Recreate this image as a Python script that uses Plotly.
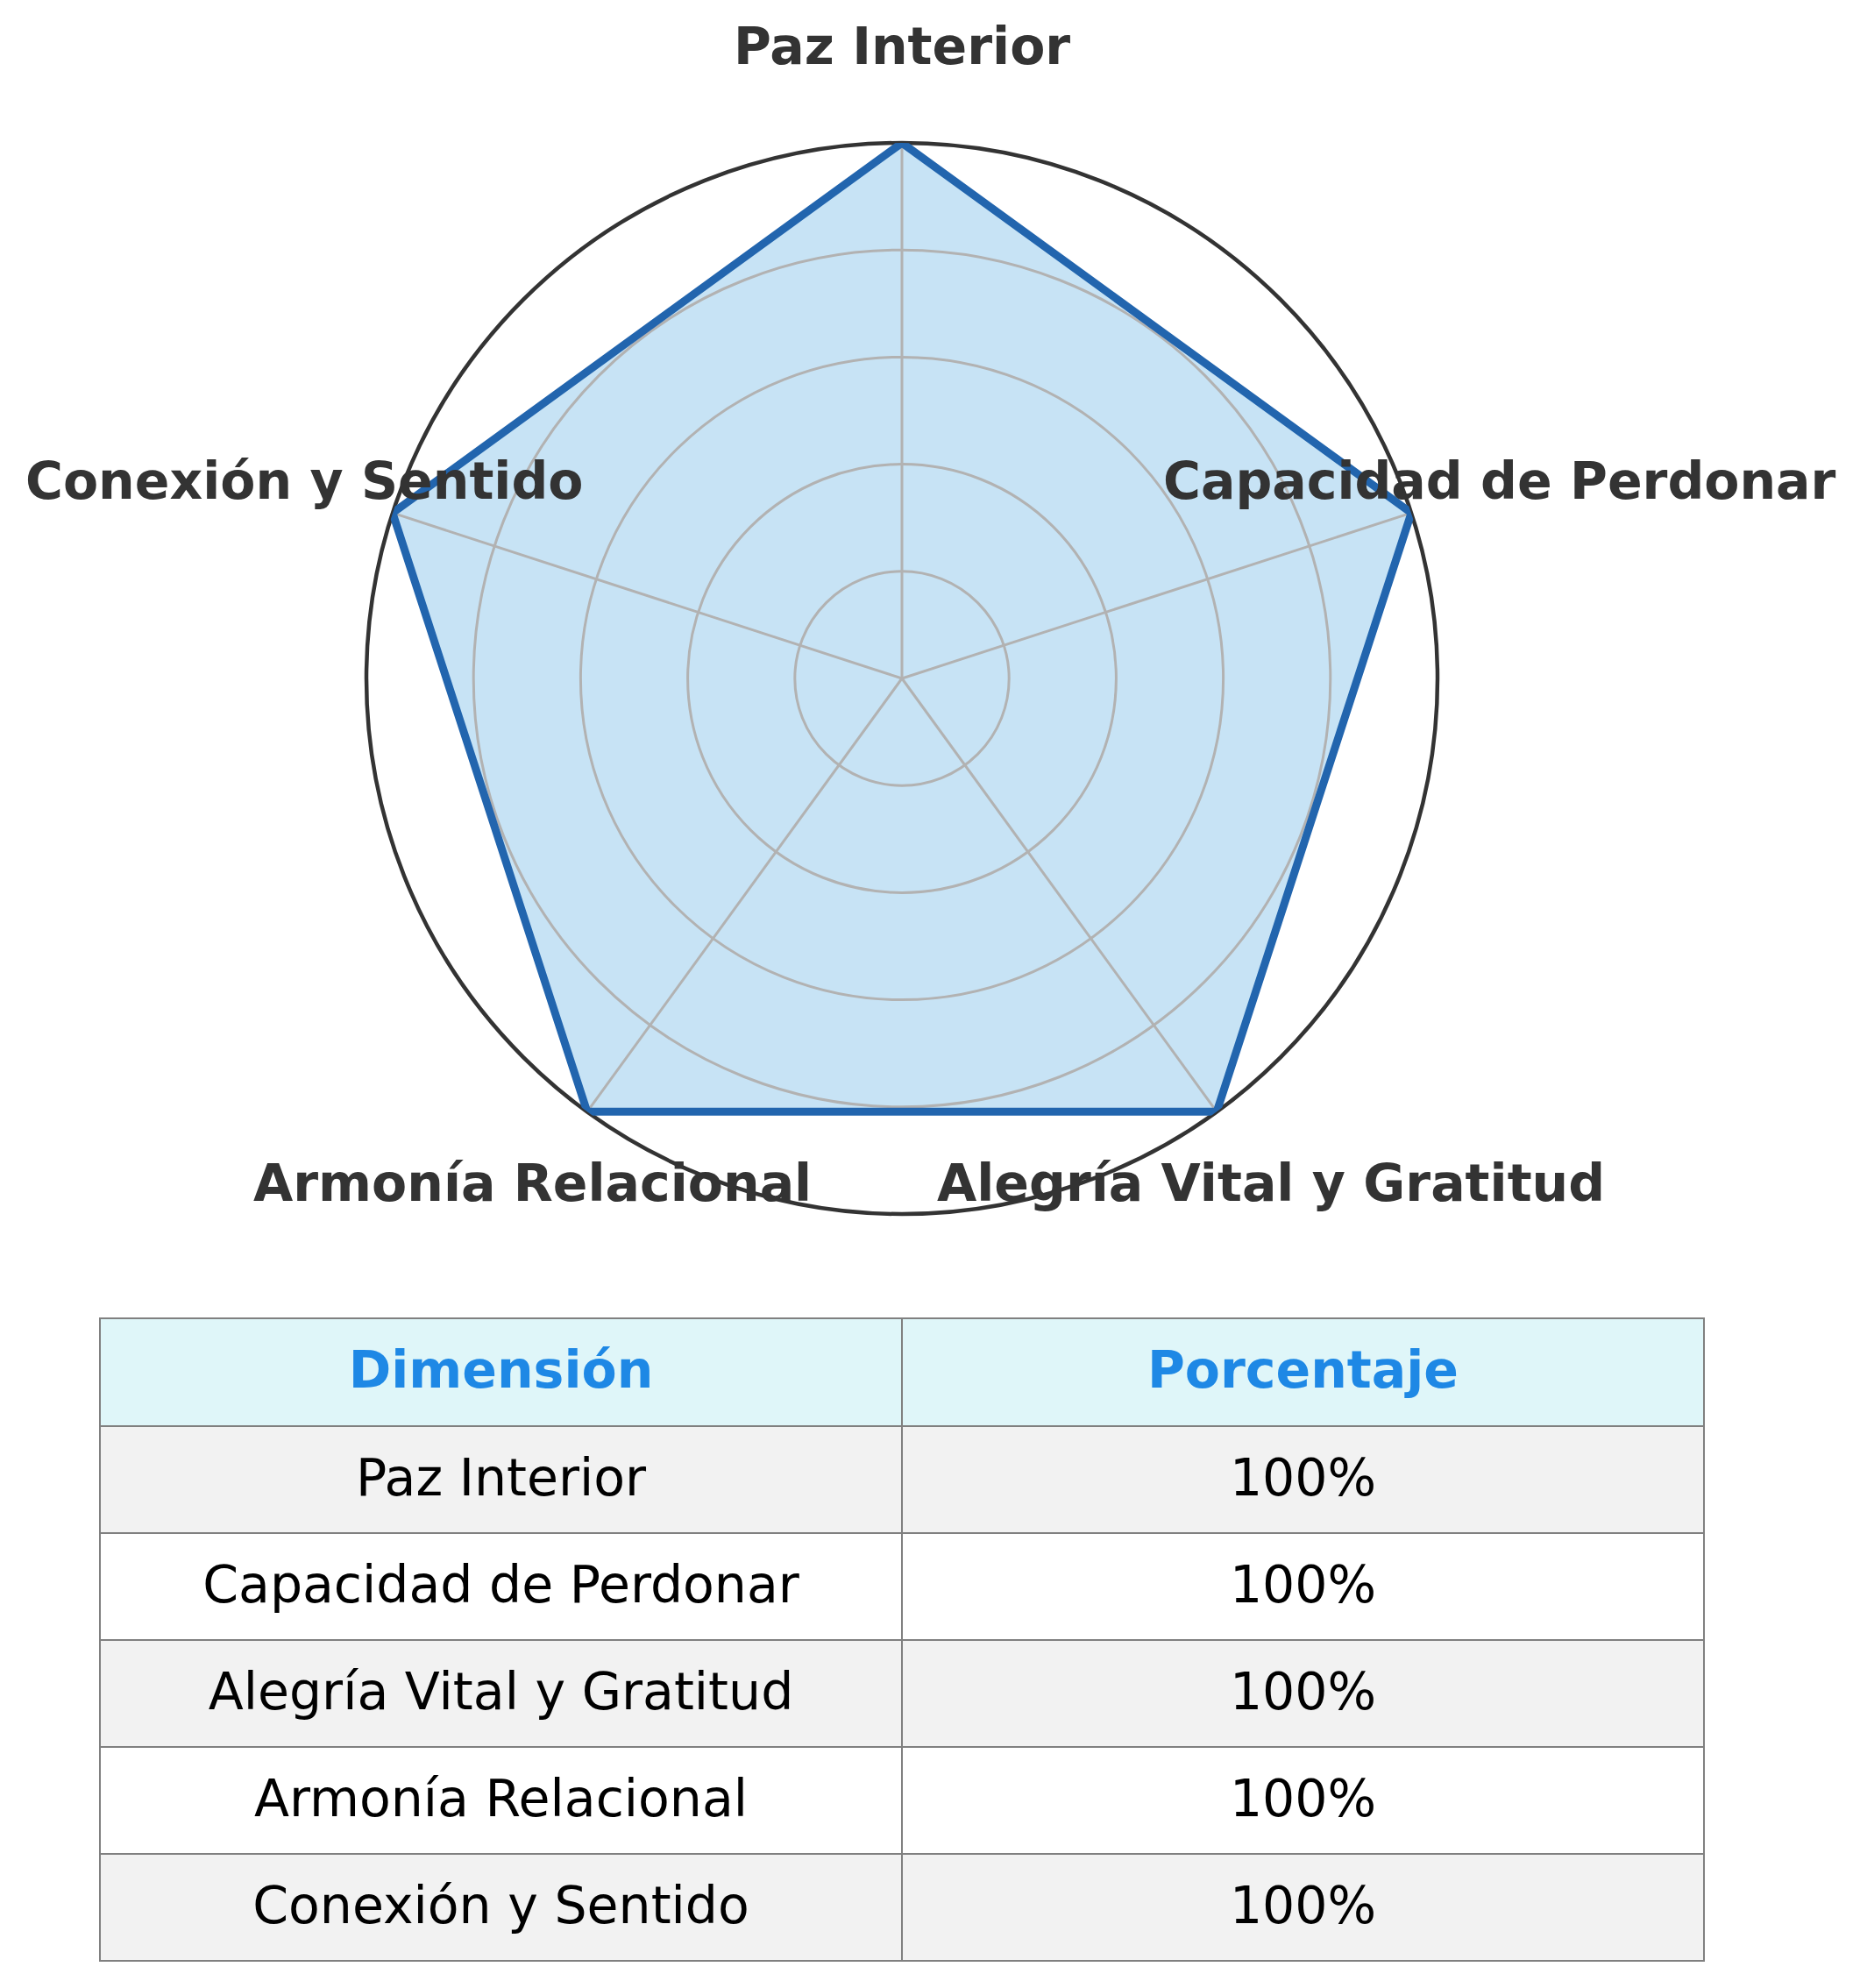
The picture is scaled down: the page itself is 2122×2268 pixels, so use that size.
import math
import plotly.graph_objects as go

categories = ["Paz Interior", "Capacidad de Perdonar", "Alegría Vital y Gratitud",
              "Armonía Relacional", "Conexión y Sentido"]
values = [100, 100, 100, 100, 100]
pct_labels = ["100%", "100%", "100%", "100%", "100%"]
header_labels = ["Dimensión", "Porcentaje"]
radial_ticks = [20, 40, 60, 80]

W, H = 2122, 2268
FONT = "DejaVu Sans"
FS = 58.5

fig = go.Figure()

fig.add_trace(go.Scatterpolar(
    r=values + values[:1],
    theta=categories + categories[:1],
    mode="lines",
    fill="toself",
    fillcolor="rgba(68,162,222,0.30)",
    line=dict(color="#2265ae", width=9),
    hoverinfo="skip",
    showlegend=False,
))

cx, cy, R = 1029, 774, 611
fig.update_layout(
    polar=dict(
        domain=dict(x=[(cx - R) / W, (cx + R) / W], y=[1 - (cy + R) / H, 1 - (cy - R) / H]),
        bgcolor="white",
        radialaxis=dict(range=[0, 100], tickvals=radial_ticks, showticklabels=False,
                        ticks="", showline=False, gridcolor="rgb(225,185,159)", gridwidth=2.5,
                        layer="below traces"),
        angularaxis=dict(direction="clockwise", rotation=90, showticklabels=False,
                         ticks="", showline=True, linecolor="#333333", linewidth=4.5,
                         gridcolor="rgb(225,185,159)", gridwidth=2.5,
                         layer="below traces"),
    )
)

# category labels around the radar, placed at a fixed radius beyond the outer ring
label_r = 1.173 * R
n = len(categories)
for i, c in enumerate(categories):
    ang = math.radians(90 - i * 360 / n)
    px = cx + label_r * math.cos(ang)
    py = cy - label_r * math.sin(ang)
    fig.add_annotation(
        x=px / W, y=1 - py / H, xref="paper", yref="paper",
        text=f"<b>{c}</b>", showarrow=False,
        xanchor="center", yanchor="middle", yshift=4,
        font=dict(family=FONT, size=FS, color="#333333"),
    )

row_fills = ["#f2f2f2" if i % 2 == 0 else "#ffffff" for i in range(n)]
TOP = 1504
HDR_H, ROW_H = 123, 122

# table grid (fills and borders)
fig.add_trace(go.Table(
    domain=dict(x=[114 / W, 1944 / W], y=[0, 1 - TOP / H]),
    columnwidth=[1, 1],
    header=dict(
        values=["", ""],
        fill_color="#dff6f9",
        line=dict(color="#808080", width=2),
        font=dict(family=FONT, size=FS),
        height=HDR_H,
    ),
    cells=dict(
        values=[[""] * n, [""] * n],
        fill_color=[row_fills, row_fills],
        line=dict(color="#808080", width=2),
        font=dict(family=FONT, size=FS),
        height=ROW_H,
    ),
))

# table text, vertically centred in the cells
D_HDR = 17
D_CELL = 27
fig.add_trace(go.Table(
    domain=dict(x=[114 / W, 1944 / W], y=[0, 1 - (TOP + D_HDR) / H]),
    columnwidth=[1, 1],
    header=dict(
        values=[f"<b>{h}</b>" for h in header_labels],
        fill_color="rgba(0,0,0,0)",
        line=dict(color="rgba(0,0,0,0)", width=0),
        font=dict(family=FONT, size=FS, color="#1e88e5"),
        align="center",
        height=HDR_H + (D_CELL - D_HDR),
    ),
    cells=dict(
        values=[categories, pct_labels],
        fill_color="rgba(0,0,0,0)",
        line=dict(color="rgba(0,0,0,0)", width=0),
        font=dict(family=FONT, size=FS, color="#000000"),
        align="center",
        height=ROW_H,
    ),
))

fig.update_layout(
    width=W, height=H,
    margin=dict(l=0, r=0, t=0, b=0),
    paper_bgcolor="white",
    plot_bgcolor="white",
    showlegend=False,
)

fig.write_html("out.html")
